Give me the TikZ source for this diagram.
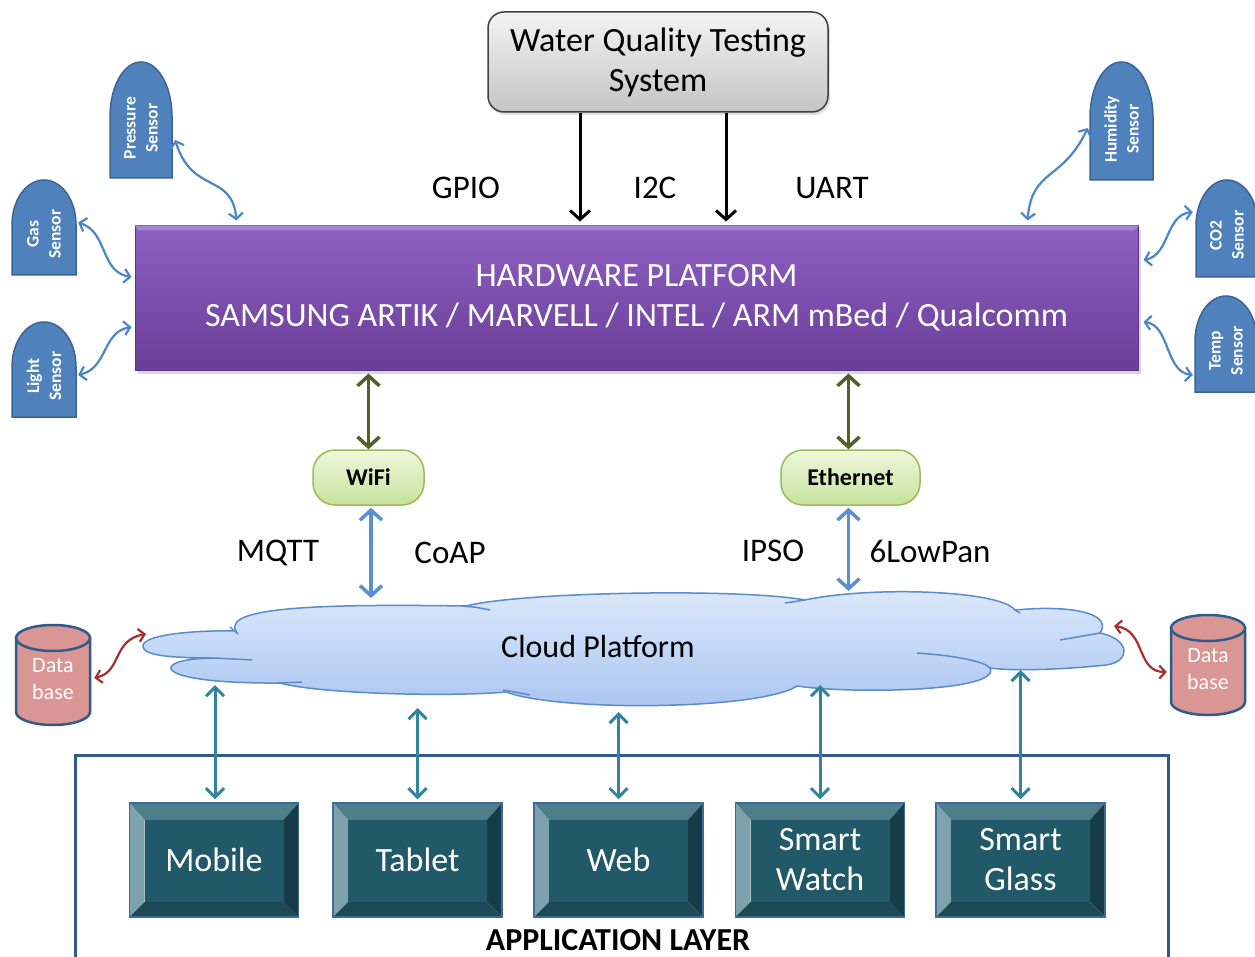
\documentclass[tikz,border=0pt]{standalone}
\usepackage{fontspec}
\setmainfont{Carlito}
\usetikzlibrary{arrows.meta,calc,shadows}
\definecolor{sensorblue}{HTML}{4F81BD}
\definecolor{sensoredge}{HTML}{3A6496}
\definecolor{wavyblue}{HTML}{4A86C8}
\definecolor{hwtop}{HTML}{8D60C2}
\definecolor{hwbot}{HTML}{6A3E98}
\definecolor{hwedge}{HTML}{5B3486}
\definecolor{hwhi}{HTML}{A584D2}
\definecolor{olivegreen}{HTML}{4F6228}
\definecolor{linkblue}{HTML}{5A8FD2}
\definecolor{pilltop}{HTML}{EEF7DC}
\definecolor{pillbot}{HTML}{C6E39C}
\definecolor{pilledge}{HTML}{9BBB59}
\definecolor{cloudtop}{HTML}{DDE9FB}
\definecolor{cloudbot}{HTML}{A9C5F2}
\definecolor{cloudedge}{HTML}{5B8BC9}
\definecolor{dbfill}{HTML}{D99694}
\definecolor{dbedge}{HTML}{2E5B8C}
\definecolor{dbred}{HTML}{A2302C}
\definecolor{appteal}{HTML}{31849B}
\definecolor{appface}{HTML}{215968}
\definecolor{appT}{HTML}{4F7E8B}
\definecolor{appL}{HTML}{7DA2AD}
\definecolor{appR}{HTML}{163C47}
\definecolor{appB}{HTML}{1C4955}
\definecolor{appedge}{HTML}{3D6C9C}
\definecolor{framecol}{HTML}{2F5A89}
\definecolor{wqtop}{HTML}{F4F4F4}
\definecolor{wqbot}{HTML}{C4C4C4}
\newcommand\fsz[2]{\fontsize{#1}{#2}\selectfont}
\tikzset{
  sensorstyle/.style={fill=sensorblue, draw=sensoredge, line width=1.5pt},
  sensortext/.style={text=white, font=\bfseries\fsz{17.5}{22}, align=center, inner sep=0pt},
  wavy/.style={draw=wavyblue, line width=2.2pt, >={Straight Barb[length=6pt,width=14pt]}, <->},
  redwavy/.style={draw=dbred, line width=2.2pt, >={Straight Barb[length=6pt,width=13pt]}, <->},
  blk/.style={draw=black, line width=3pt, ->, >={Straight Barb[length=9pt,width=20pt]}},
  greenlink/.style={draw=olivegreen, line width=3.5pt, <->, >={Straight Barb[length=10pt,width=22pt]}},
  bluelink/.style={draw=linkblue, line width=3.5pt, <->, >={Straight Barb[length=10pt,width=22pt]}},
  teallink/.style={draw=appteal, line width=3pt, <->, >={Straight Barb[length=9pt,width=18pt]}},
  lbl/.style={font=\fsz{33}{40}, text=black, inner sep=0pt},
  pill/.style={rounded corners=22pt, top color=pilltop, bottom color=pillbot, draw=pilledge, line width=1.5pt, minimum height=55pt, font=\bfseries\fsz{24}{28}},
  dbstyle/.style={fill=dbfill, draw=dbedge, line width=2.5pt},
  dbtext/.style={text=white, font=\fsz{22}{27}, align=center, inner sep=0pt, minimum width=74pt, minimum height=100pt},
  appnode/.style={draw=appedge, line width=1.5pt, minimum width=169pt, minimum height=114pt, inner sep=0pt, text=white, font=\fsz{34}{40}, align=center},
  cloudinner/.style={draw=cloudedge, line width=1.5pt},
}
\newcommand\sensorshape[6]{%
  \path[sensorstyle] ({#2-#4/2},{#3+#5/2}) -- ({#2-#4/2},{#3-#5/2+0.47*#5})
    .. controls ({#2-#4/2},{#3-#5/2+0.21*#5}) and ({#2-0.276*#4},{#3-#5/2}) .. ({#2},{#3-#5/2})
    .. controls ({#2+0.276*#4},{#3-#5/2}) and ({#2+#4/2},{#3-#5/2+0.21*#5}) .. ({#2+#4/2},{#3-#5/2+0.47*#5})
    -- ({#2+#4/2},{#3+#5/2}) -- cycle;
  \node[inner sep=0pt, minimum width=#4pt, minimum height=#5pt] (#1) at (#2,#3) {};
  \node[sensortext, rotate=90] (#1txt) at ({#2},{#3+0.07*#5}) {#6};
}
\newcommand\dbshape[4]{% name cx top bottom
  \path[dbstyle] ({#2-37},{#3+13}) -- ({#2-37},{#4-13})
    .. controls ({#2-37},{#4-13+7.2}) and ({#2-20.4},{#4}) .. ({#2},{#4})
    .. controls ({#2+20.4},{#4}) and ({#2+37},{#4-13+7.2}) .. ({#2+37},{#4-13})
    -- ({#2+37},{#3+13}) -- cycle;
  \draw[dbstyle] ({#2},{#3+13}) ellipse [x radius=37pt, y radius=13pt];
  \node[dbtext] (#1) at ({#2},{(#3+#4)/2+4}) {Data\\base};
}
\newcommand\appbox[4]{% name cx cy text
  \fill[appT] ({#2-84.5},{#3-57}) -- ({#2+84.5},{#3-57}) -- ({#2+69.5},{#3-40}) -- ({#2-69.5},{#3-40}) -- cycle;
  \fill[appL] ({#2-84.5},{#3-57}) -- ({#2-69.5},{#3-40}) -- ({#2-69.5},{#3+42}) -- ({#2-84.5},{#3+57}) -- cycle;
  \fill[appR] ({#2+84.5},{#3-57}) -- ({#2+69.5},{#3-40}) -- ({#2+69.5},{#3+42}) -- ({#2+84.5},{#3+57}) -- cycle;
  \fill[appB] ({#2-84.5},{#3+57}) -- ({#2-69.5},{#3+42}) -- ({#2+69.5},{#3+42}) -- ({#2+84.5},{#3+57}) -- cycle;
  \fill[appface] ({#2-69.5},{#3-40}) rectangle ({#2+69.5},{#3+42});
  \node[appnode] (#1) at (#2,#3) {#4};
}
\begin{document}
\begin{tikzpicture}[x=1pt,y=-1pt]
\useasboundingbox (0,0) rectangle (1255,957);
\fill[white] (0,0) rectangle (1255,957);

% Water quality box
\node[rounded corners=16pt, top color=wqtop, bottom color=wqbot, draw=black!75, line width=1.5pt,
  minimum width=340pt, minimum height=100pt, align=center, font=\fsz{34}{40},
  drop shadow={shadow xshift=2pt, shadow yshift=-3pt, opacity=0.25}] (wq) at (658,62) {Water Quality Testing\\System};

% hardware platform
\node[top color=hwtop, bottom color=hwbot, draw=hwedge, line width=1pt,
  minimum width=1003pt, minimum height=144pt,
  drop shadow={shadow xshift=3pt, shadow yshift=-4pt, opacity=0.3}] (hw) at (636.5,298) {};
\fill[hwhi] (hw.north west) -- (hw.north east) -- ($(hw.north east)+(-4,5)$) -- ($(hw.north west)+(4,5)$) -- cycle;
\node[align=center, text=white, font=\fsz{34}{40}, inner sep=0pt] (hwtext) at (hw) {HARDWARE PLATFORM\\SAMSUNG ARTIK / MARVELL / INTEL / ARM mBed / Qualcomm};

% black arrows
\coordinate (g1) at ($(wq.south)+(-78,0)$);
\coordinate (g2) at ($(wq.south)+(68,0)$);
\draw[blk, shorten >=4pt] (g1) -- (g1 |- hw.north);
\draw[blk, shorten >=4pt] (g2) -- (g2 |- hw.north);
\node[lbl] (gpio) at (466,188) {GPIO};
\node[lbl] (i2c) at (655,188) {I2C};
\node[lbl] (uart) at (832,188) {UART};

% sensors
\sensorshape{pres}{141}{120}{62}{116}{Pressure\\Sensor}
\sensorshape{gas}{44}{227.5}{64}{95}{Gas\\Sensor}
\sensorshape{light}{44}{369.5}{64}{95}{Light\\Sensor}
\sensorshape{hum}{1121.5}{121}{63}{118}{Humidity\\Sensor}
\sensorshape{co2}{1227}{228.5}{62}{97}{CO2\\Sensor}
\sensorshape{temp}{1226}{344}{62}{96}{Temp\\Sensor}

\draw[wavy] ($(pres.east)+(3,20)$) .. controls (192,195) and (232,172) .. ($(hw.north west)+(102,-5)$);
\draw[wavy] ($(gas.east)+(2,-5)$) .. controls (108,232) and (100,272) .. ($(hw.west)+(-3,-21)$);
\draw[wavy] ($(light.east)+(2,5.5)$) .. controls (108,368) and (102,332) .. ($(hw.west)+(-3,29)$);
\draw[wavy] ($(hum.west)+(-2,7)$) .. controls (1062,182) and (1032,168) .. ($(hw.north east)+(-111,-5)$);
\draw[wavy] ($(co2.west)+(-3,-16.5)$) .. controls (1165,215) and (1170,255) .. ($(hw.east)+(5,-38)$);
\draw[wavy] ($(temp.west)+(-2,31)$) .. controls (1165,372) and (1170,325) .. ($(hw.east)+(5,24)$);

% wifi / ethernet
\node[pill, minimum width=111pt] (wifi) at (368.5,477.5) {WiFi};
\node[pill, minimum width=139pt] (eth) at (850.5,477.5) {Ethernet};
\coordinate (wtop) at (wifi.north);
\coordinate (etop) at ($(eth.north)+(-2,0)$);
\draw[greenlink, shorten <=3pt] (wtop |- hw.south) -- (wtop);
\draw[greenlink, shorten <=3pt] (etop |- hw.south) -- (etop);

% cloud
\path[top color=cloudtop, bottom color=cloudbot, draw=cloudedge, line width=1.5pt]
  (143,646) .. controls (143,634) and (200,630) .. (236,631)
  .. controls (222,606) and (330,604) .. (466,606)
  .. controls (520,592) and (740,588) .. (805,600)
  .. controls (870,586) and (1000,590) .. (1015,610)
  .. controls (1080,604) and (1112,616) .. (1100,633)
  .. controls (1132,640) and (1130,662) .. (1106,665)
  .. controls (1060,670) and (1010,671) .. (990,668)
  .. controls (1002,692) and (850,694) .. (797,686)
  .. controls (760,710) and (560,712) .. (506,692)
  .. controls (450,697) and (320,694) .. (280,683)
  .. controls (145,684) and (150,658) .. (215,658)
  .. controls (160,658) and (143,654) .. (143,646) -- cycle;
\draw[cloudinner] (230,627) -- (238,634);
\draw[cloudinner] (215,658) -- (252,660);
\draw[cloudinner] (278,683) -- (302,682);
\draw[cloudinner] (462,606) .. controls (475,607) .. (490,610);
\draw[cloudinner] (503,690) .. controls (515,692) .. (530,695);
\draw[cloudinner] (805,600) .. controls (795,601) .. (785,603);
\draw[cloudinner] (1015,610) -- (1020,613);
\draw[cloudinner] (1100,633) .. controls (1080,636) .. (1060,640);
\draw[cloudinner] (917,653) .. controls (960,656) and (985,662) .. (990,668);
\node[lbl, font=\fsz{32}{40}] (cloud) at (598,647) {Cloud Platform};

\coordinate (wbot) at ($(wifi.south)+(2.5,0)$);
\coordinate (ebot) at ($(eth.south)+(-2,0)$);
\coordinate (ctopA) at (0,598);
\coordinate (ctopB) at (0,591);
\draw[bluelink, shorten <=2pt] (wbot) -- (wbot |- ctopA);
\draw[bluelink, shorten <=2pt] (ebot) -- (ebot |- ctopB);
\node[lbl] (mqtt) at (278,553) {MQTT};
\node[lbl] (coap) at (450,553) {CoAP};
\node[lbl] (ipso) at (773,551) {IPSO};
\node[lbl] (lowpan) at (930,551) {6LowPan};

% databases
\dbshape{dbl}{53}{625}{725}
\dbshape{dbr}{1208}{615}{715}
\coordinate (cl) at (146,634);
\coordinate (cr) at (1114,626);
\draw[redwavy] ($(dbl.east)+(4,-1)$) .. controls (122,672) and (112,640) .. (cl);
\draw[redwavy] (cr) .. controls (1146,630) and (1136,672) .. ($(dbr.west)+(-4,3)$);

% application layer
\node[draw=framecol, line width=3pt, minimum width=1093pt, minimum height=230pt, inner sep=0pt] (applayer) at (621.5,870) {};
\node[font=\bfseries\fsz{32}{36}, inner sep=0pt] (applbl) at (618,940) {APPLICATION LAYER};
\appbox{mobile}{214}{860}{Mobile}
\appbox{tablet}{417.5}{860}{Tablet}
\appbox{web}{618.5}{860}{Web}
\appbox{watch}{820}{860}{Smart\\Watch}
\appbox{glass}{1020.5}{860}{Smart\\Glass}

\coordinate (mtop) at ($(mobile.north)+(1,0)$);
\coordinate (cb1) at (0,685);
\coordinate (cb2) at (0,708);
\coordinate (cb3) at (0,712);
\coordinate (cb4) at (0,685);
\coordinate (cb5) at (0,670);
\draw[teallink, shorten >=3pt] (mtop |- cb1) -- (mtop);
\draw[teallink, shorten >=3pt] (tablet.north |- cb2) -- (tablet.north);
\draw[teallink, shorten >=3pt] (web.north |- cb3) -- (web.north);
\draw[teallink, shorten >=3pt] (watch.north |- cb4) -- (watch.north);
\draw[teallink, shorten >=3pt] (glass.north |- cb5) -- (glass.north);
\end{tikzpicture}
\end{document}
